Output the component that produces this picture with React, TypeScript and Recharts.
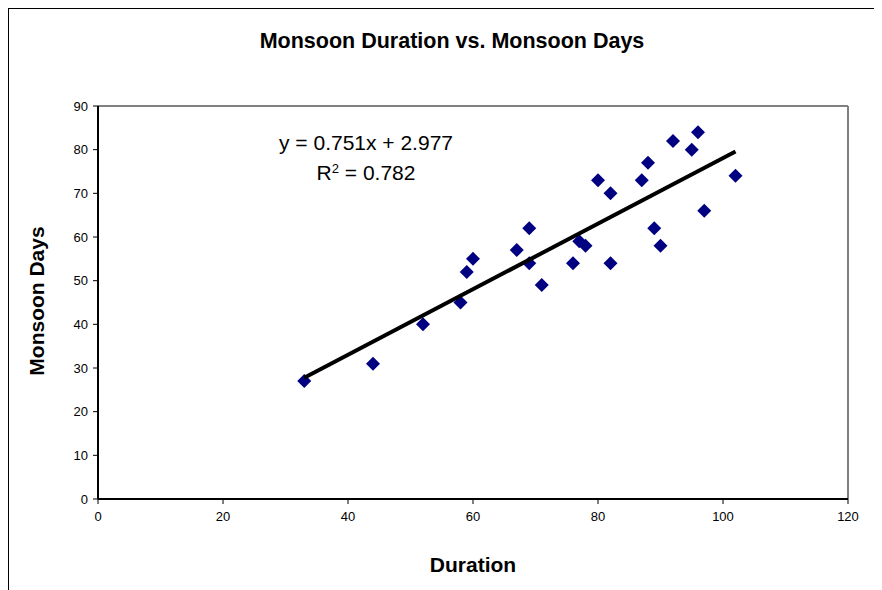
import React from 'react';
import {
  ScatterChart,
  Scatter,
  XAxis,
  YAxis,
  ReferenceLine,
} from 'recharts';

// Duration (x) and Monsoon Days (y)
const durations = [33, 44, 52, 58, 59, 60, 67, 69, 69, 71, 76, 77, 78, 80, 82, 82, 87, 88, 89, 90, 92, 95, 96, 97, 102];
const monsoonDays = [27, 31, 40, 45, 52, 55, 57, 62, 54, 49, 54, 59, 58, 73, 70, 54, 73, 77, 62, 58, 82, 80, 84, 66, 74];

const xTicks = [0, 20, 40, 60, 80, 100, 120];
const yTicks = [0, 10, 20, 30, 40, 50, 60, 70, 80, 90];

// linear trendline as shown on the chart
const slope = 0.751;
const intercept = 2.977;

const points = durations.map((d, i) => ({ x: d, y: monsoonDays[i] }));
const xMin = Math.min(...durations);
const xMax = Math.max(...durations);
const trend = [
  { x: xMin, y: slope * xMin + intercept },
  { x: xMax, y: slope * xMax + intercept },
];

const FONT = 'Arial, "Liberation Sans", sans-serif';

const Diamond = (props: any) => {
  const { cx, cy } = props;
  if (cx == null || cy == null) return null;
  const r = 7;
  return (
    <polygon
      points={`${cx},${cy - r} ${cx + r},${cy} ${cx},${cy + r} ${cx - r},${cy}`}
      fill="#000080"
    />
  );
};

export default function App() {
  const tickStyle = { fontSize: 13, fill: '#000', fontFamily: FONT };

  return (
    <div
      style={{
        position: 'relative',
        width: 871,
        height: 581,
        borderLeft: '1px solid #000',
        borderTop: '1px solid #000',
        borderRight: '1px solid #000',
        background: '#fff',
        fontFamily: FONT,
      }}
    >
      {/* Title */}
      <div
        style={{
          position: 'absolute',
          left: 443 - 300,
          width: 600,
          top: 32 - 14,
          height: 28,
          lineHeight: '28px',
          textAlign: 'center',
          fontSize: 21.5,
          fontWeight: 'bold',
        }}
      >
        Monsoon Duration vs. Monsoon Days
      </div>

      <ScatterChart
        width={871}
        height={581}
        margin={{ top: 97, right: 32, left: 0, bottom: 61 }}
      >
        <XAxis
          type="number"
          dataKey="x"
          domain={[0, 120]}
          ticks={xTicks}
          interval={0}
          axisLine={{ stroke: '#000', strokeWidth: 2 }}
          tickLine={{ stroke: '#000' }}
          tickSize={5}
          tickMargin={8}
          tick={tickStyle}
          height={30}
        />
        <YAxis
          type="number"
          dataKey="y"
          domain={[0, 90]}
          ticks={yTicks}
          interval={0}
          axisLine={{ stroke: '#000', strokeWidth: 2 }}
          tickLine={{ stroke: '#000' }}
          tickSize={5}
          tickMargin={5}
          tick={tickStyle}
          width={89}
        />
        {/* plot area border (top and right) */}
        <ReferenceLine y={90} stroke="#808080" strokeWidth={2} />
        <ReferenceLine x={120} stroke="#808080" strokeWidth={2} />

        <Scatter
          data={points}
          shape={Diamond}
          isAnimationActive={false}
        />
        <Scatter
          data={trend}
          line={{ stroke: '#000', strokeWidth: 4 }}
          shape={() => <g />}
          isAnimationActive={false}
        />
      </ScatterChart>

      {/* Trendline equation */}
      <div
        style={{
          position: 'absolute',
          left: 357 - 120,
          width: 240,
          top: 134 - 12,
          height: 24,
          lineHeight: '24px',
          textAlign: 'center',
          fontSize: 21,
        }}
      >
        y = 0.751x + 2.977
      </div>
      <div
        style={{
          position: 'absolute',
          left: 357 - 120,
          width: 240,
          top: 164 - 12,
          height: 24,
          lineHeight: '24px',
          textAlign: 'center',
          fontSize: 21,
        }}
      >
        R<sup style={{ fontSize: 13, verticalAlign: 'top', lineHeight: '16px' }}>2</sup> = 0.782
      </div>

      {/* Axis titles */}
      <div
        style={{
          position: 'absolute',
          left: 464 - 100,
          width: 200,
          top: 556 - 14,
          height: 28,
          lineHeight: '28px',
          textAlign: 'center',
          fontSize: 21,
          fontWeight: 'bold',
        }}
      >
        Duration
      </div>
      <div
        style={{
          position: 'absolute',
          left: 28 - 100,
          width: 200,
          top: 292 - 14,
          height: 28,
          lineHeight: '28px',
          textAlign: 'center',
          fontSize: 21,
          fontWeight: 'bold',
          transform: 'rotate(-90deg)',
        }}
      >
        Monsoon Days
      </div>
    </div>
  );
}
